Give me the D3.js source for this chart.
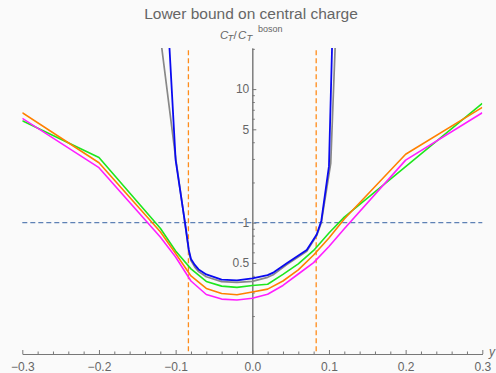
<!DOCTYPE html>
<html lang="en">
<head>
<meta charset="UTF-8">
<title>Lower bound on central charge</title>
<script src="https://cdn.jsdelivr.net/npm/d3@7"></script>
<style>
  body { margin: 0; background: #fafafa; }
  text { font-family: "Liberation Sans", Arial, sans-serif; fill: #666; }
</style>
</head>
<body>
<script>
// grid shared by the three smooth bounds
const xGrid = [-0.3, -0.2, -0.12, -0.1, -0.08, -0.06, -0.04, -0.02, 0, 0.02, 0.04, 0.06, 0.08, 0.1, 0.12, 0.2, 0.3];
const magentaVals = [6.04, 2.58, 0.782, 0.554, 0.366, 0.290, 0.268, 0.264, 0.272, 0.291, 0.339, 0.413, 0.502, 0.664, 0.90, 2.94, 6.65];
const orangeVals  = [6.65, 2.81, 0.856, 0.588, 0.399, 0.322, 0.295, 0.289, 0.303, 0.318, 0.366, 0.443, 0.573, 0.769, 1.066, 3.25, 7.3];
const greenVals   = [5.79, 3.08, 0.908, 0.614, 0.451, 0.363, 0.335, 0.328, 0.339, 0.346, 0.410, 0.491, 0.620, 0.838, 1.10, 2.63, 7.82];

// the two bounds with walls
const blueX = [-0.112, -0.108, -0.1, -0.0878, -0.0828, -0.08, -0.075, -0.07, -0.06, -0.04, -0.02, 0, 0.02, 0.028, 0.045, 0.071, 0.084, 0.09, 0.1, 0.104, 0.106];
const blueY = [50, 20.2, 2.94, 1.0, 0.625, 0.535, 0.483, 0.447, 0.410, 0.375, 0.370, 0.383, 0.405, 0.425, 0.497, 0.625, 0.815, 1.03, 2.65, 20.2, 50];
const grayX = [-0.126, -0.118, -0.1, -0.0878, -0.0828, -0.08, -0.075, -0.07, -0.06, -0.04, -0.02, 0, 0.02, 0.028, 0.045, 0.071, 0.084, 0.09, 0.1023, 0.108, 0.11];
const grayY = [45, 20.2, 3.05, 0.99, 0.61, 0.52, 0.465, 0.43, 0.394, 0.362, 0.358, 0.364, 0.39, 0.41, 0.485, 0.61, 0.80, 1.0, 2.78, 20.2, 36];

// reference lines
const hLine = 1;
const vLines = [-1 / 12, 1 / 12];

// ticks
const xMajor = [-0.3, -0.2, -0.1, 0, 0.1, 0.2, 0.3];
const xMinor = d3.range(-0.3, 0.3001, 0.02).filter(v => Math.abs(Math.round(v * 10) - v * 10) > 1e-6);
const yMajor = [0.5, 1, 5, 10];
const yMinor = [0.2, 0.3, 0.4, 0.6, 0.7, 0.8, 0.9, 2, 3, 4, 6, 7, 8, 9, 20];

const width = 496, height = 373;

const svg = d3.select("body").append("svg")
  .attr("width", width)
  .attr("height", height)
  .style("background", "#fafafa");

const x = d3.scaleLinear().domain([-0.3, 0.3]).range([22.3, 482.3]);
const y = d3.scaleLog().domain([0.104, 20.3]).range([354, 48]);

svg.append("clipPath").attr("id", "plot")
  .append("rect")
  .attr("x", x(-0.3)).attr("y", y(20.3))
  .attr("width", x(0.3) - x(-0.3)).attr("height", y(0.104) - y(20.3));

// axes
const axisColor = "#777";

const xAxis = svg.append("g").attr("transform", `translate(0,${y(0.104)})`)
  .call(d3.axisBottom(x).tickValues(xMajor).tickSize(-4).tickSizeOuter(0).tickPadding(8)
    .tickFormat(d3.format(".1f")));
svg.append("g").attr("transform", `translate(0,${y(0.104)})`)
  .call(d3.axisBottom(x).tickValues(xMinor).tickSize(-2.5).tickSizeOuter(0).tickFormat(""));

const yAxis = svg.append("g").attr("transform", `translate(${x(0)},0)`)
  .call(d3.axisLeft(y).tickValues(yMajor).tickSize(-4).tickSizeOuter(0).tickPadding(3)
    .tickFormat(d => d));
svg.append("g").attr("transform", `translate(${x(0)},0)`)
  .call(d3.axisLeft(y).tickValues(yMinor).tickSize(-2.5).tickSizeOuter(0).tickFormat(""));

svg.selectAll(".domain, .tick line").attr("stroke", axisColor);
svg.selectAll(".tick text").attr("font-size", 12).attr("fill", "#666")
  .style("font-family", '"Liberation Sans", Arial, sans-serif');

// dashed reference lines
svg.append("line")
  .attr("x1", x(-0.3)).attr("x2", x(0.3))
  .attr("y1", y(hLine)).attr("y2", y(hLine))
  .attr("stroke", "#5E81B5").attr("stroke-width", 1.3).attr("stroke-dasharray", "5,3");

svg.selectAll(".vline").data(vLines).enter().append("line")
  .attr("x1", d => x(d)).attr("x2", d => x(d))
  .attr("y1", y(19.5)).attr("y2", y(0.104))
  .attr("stroke", "#FF8C1A").attr("stroke-width", 1.3).attr("stroke-dasharray", "5,3");

// curves
const line = d3.line().x(d => x(d[0])).y(d => y(d[1]));
const curves = svg.append("g").attr("clip-path", "url(#plot)");

const series = [
  { xs: xGrid, ys: greenVals, color: "#1EE61E", w: 1.6 },
  { xs: xGrid, ys: orangeVals, color: "#FF8000", w: 1.6 },
  { xs: xGrid, ys: magentaVals, color: "#FF1EFF", w: 1.6 },
  { xs: grayX, ys: grayY, color: "#888888", w: 1.7 },
  { xs: blueX, ys: blueY, color: "#0A0AF0", w: 1.8 }
];

series.forEach(s => {
  curves.append("path")
    .datum(s.xs.map((v, i) => [v, s.ys[i]]))
    .attr("fill", "none")
    .attr("stroke", s.color)
    .attr("stroke-width", s.w)
    .attr("stroke-linejoin", "round")
    .attr("d", line);
});

// title and axis labels
svg.append("text")
  .attr("x", 251).attr("y", 19)
  .attr("text-anchor", "middle")
  .attr("font-size", 15.5)
  .text("Lower bound on central charge");

const ylab = svg.append("text").attr("y", 39).attr("font-size", 11.5);
ylab.append("tspan").attr("x", 220).attr("font-style", "italic").text("C");
ylab.append("tspan").attr("x", 227.5).attr("dy", 2).attr("font-size", 9.5).attr("font-style", "italic").text("T");
ylab.append("tspan").attr("x", 233.5).attr("dy", -2).text("/");
ylab.append("tspan").attr("x", 238).attr("font-style", "italic").text("C");
ylab.append("tspan").attr("x", 246.5).attr("dy", 2).attr("font-size", 9.5).attr("font-style", "italic").text("T");
ylab.append("tspan").attr("x", 258).attr("dy", -8.7).attr("font-size", 9).text("boson");

svg.append("text")
  .attr("x", 489).attr("y", 356)
  .attr("font-size", 12).attr("font-style", "italic")
  .text("y");
</script>
</body>
</html>
